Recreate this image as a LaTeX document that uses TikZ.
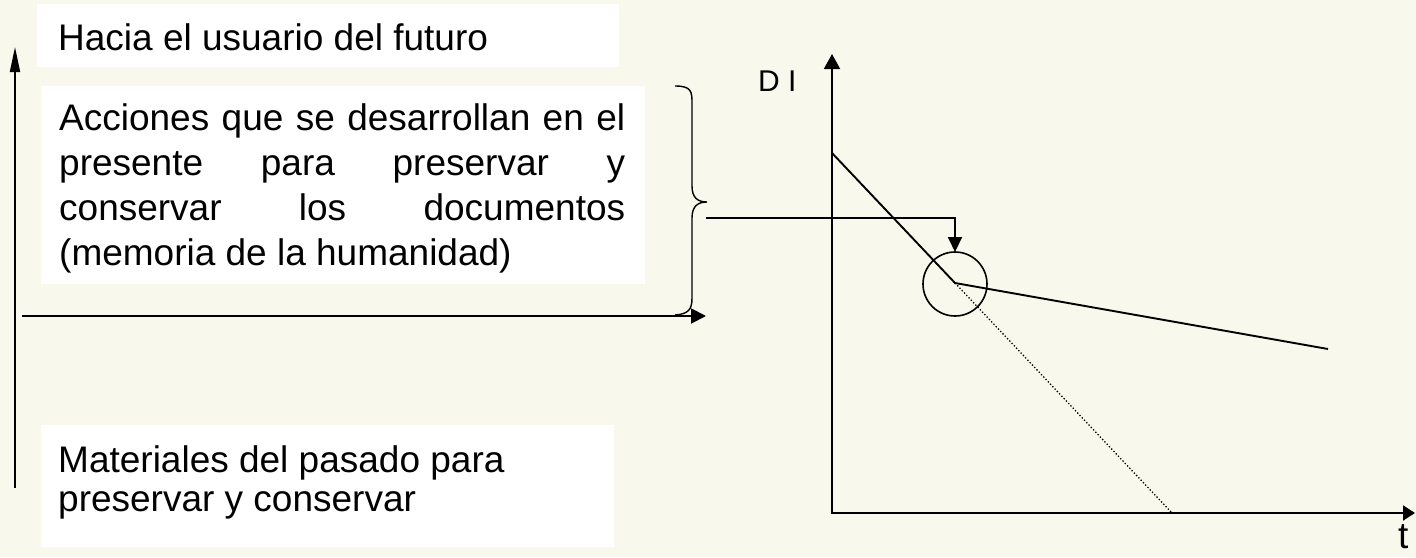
\documentclass[tikz,border=0pt]{standalone}
\usepackage{fontspec}
\setmainfont{Liberation Sans}
\usetikzlibrary{arrows.meta}
\definecolor{bg}{HTML}{F8F8EC}
\begin{document}
\begin{tikzpicture}[x=1pt,y=-1pt,
  txt/.style={anchor=base west, inner sep=0pt, font=\fontsize{37}{44}\selectfont},
  lbl/.style={anchor=base west, inner sep=0pt, font=\fontsize{30}{36}\selectfont},
  wbox/.style={fill=white, draw=none, anchor=north west, inner sep=0pt, outer sep=0pt},
  ln/.style={line width=1.9pt, line join=miter},
  tipA/.style={-{Triangle[length=15pt,width=15pt]}},
]
\fill[bg] (0,0) rectangle (1416,557);
\useasboundingbox (0,0) rectangle (1416,557);

% white boxes
\node[wbox, minimum width=582pt, minimum height=63pt] (b1) at (37,4) {};
\node[wbox, minimum width=604pt, minimum height=198pt] (b2) at (41,86) {};
\node[wbox, minimum width=573pt, minimum height=122pt] (b3) at (41,425) {};

% texts
\node[txt] (t1) at (58,50) {Hacia el usuario del futuro};
\node[txt] (t2a) at (59,130) {\hbox to 566pt{Acciones\hfill que\hfill se\hfill desarrollan\hfill en\hfill el}};
\node[txt] (t2b) at (59,175) {\hbox to 566pt{presente\hfill para\hfill preservar\hfill y}};
\node[txt] (t2c) at (59,220) {\hbox to 566pt{conservar\hfill los\hfill documentos}};
\node[txt] (t2d) at (59,265) {(memoria de la humanidad)};
\node[txt] (t3a) at (58,472) {Materiales del pasado para};
\node[txt] (t3b) at (58,511) {preservar y conservar};

% left axis arrows
\coordinate (va0) at (15,488);
\coordinate (va1) at (15,47);
\draw[ln, -{Triangle[length=25pt,width=10pt]}] (va0) -- (va1);
\coordinate (ha0) at (22,316);
\coordinate (ha1) at (706,316);
\draw[ln, tipA] (ha0) -- (ha1);

% brace
\coordinate (bt) at (707,202);
\draw[line width=1.4pt] (675,86) .. controls (692,86) and (692,92) .. (692,104)
  -- (692,186) .. controls (692,198) and (698,202) .. (bt)
  .. controls (698,202) and (692,206) .. (692,218)
  -- (692,298) .. controls (692,310) and (688,314) .. (675,315);

% DI graph
\coordinate (yt) at (832,54);
\coordinate (xt) at (1415,513);
\draw[ln, {Triangle[length=15pt,width=16pt]}-{Triangle[length=12pt,width=15pt]}] (yt) |- (xt);
\node[lbl] (di) at (758,91) {D I};
\node[txt] (tl) at (1398,548) {t};

\node[circle, draw, line width=1.6pt, minimum size=64pt, inner sep=0pt, outer sep=0pt] (c) at (955,284) {};
\coordinate (p0) at (832,153);
\coordinate (pk) at (955,283);
\coordinate (p1) at (1328,349);
\coordinate (p2) at (1172,513);
\draw[ln] (p0) -- (pk) -- (p1);
\draw[line width=1.3pt, dash pattern=on 1.3pt off 2pt] (pk) -- (p2);

% connector from brace to circle
\coordinate (cs) at (706,218);
\draw[ln, -{Triangle[length=15pt,width=14pt]}] (cs) -| (c.north);
\end{tikzpicture}
\end{document}
